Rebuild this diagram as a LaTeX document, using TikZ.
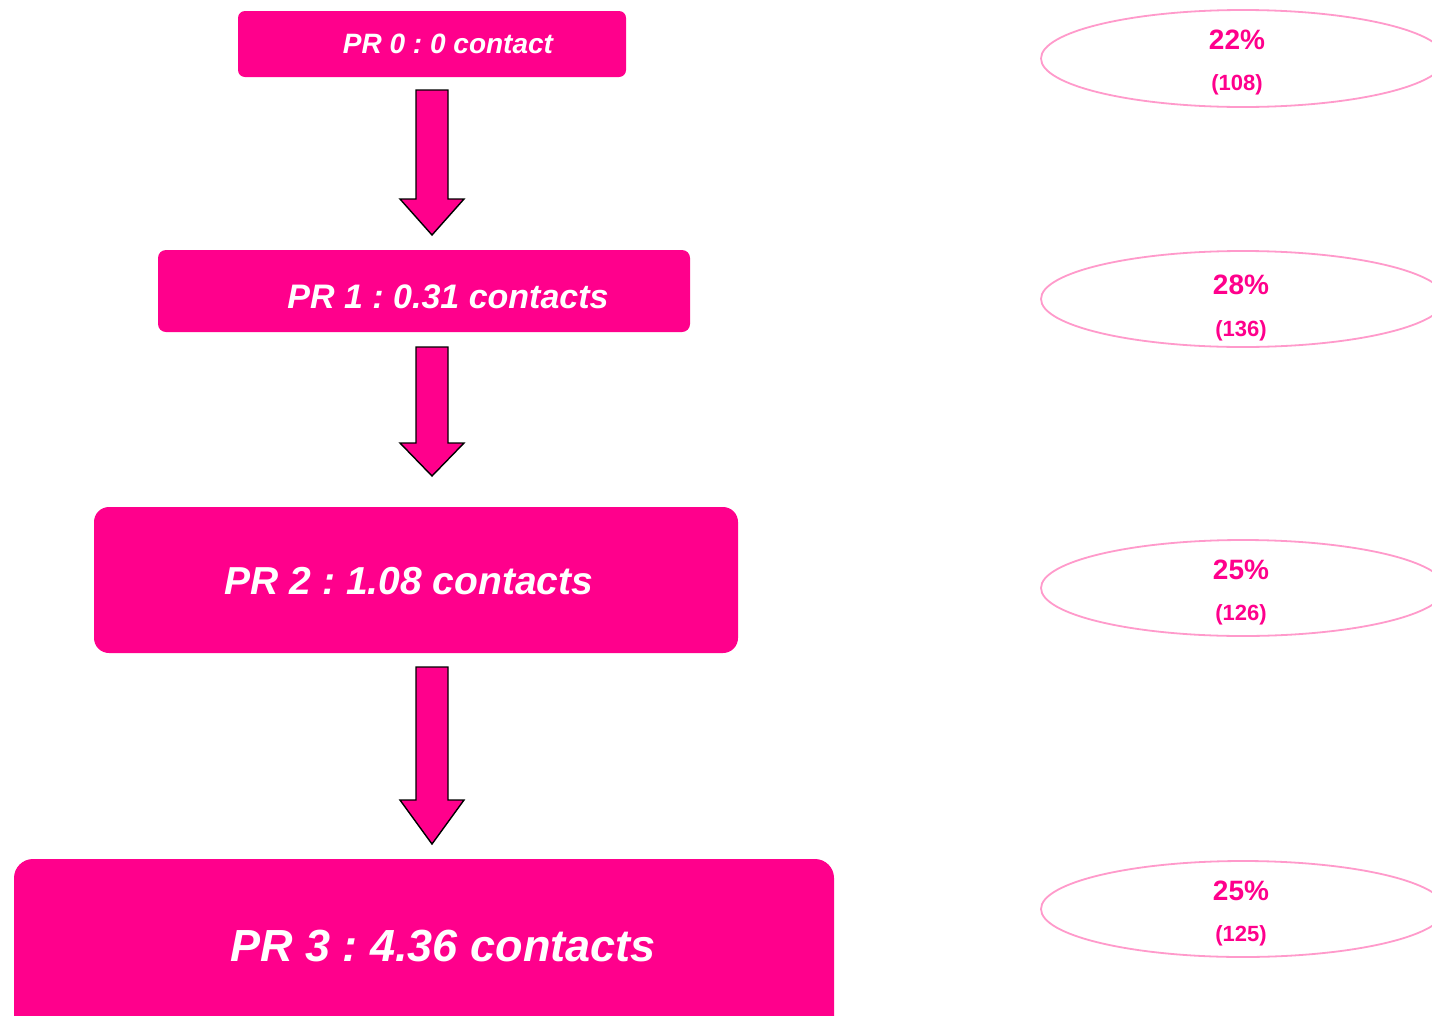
\documentclass[tikz,border=0pt]{standalone}
\usepackage{fontspec}
\setmainfont{Liberation Sans}
\usetikzlibrary{calc}
\frenchspacing
\definecolor{hotpink}{HTML}{FF008C}
\definecolor{softpink}{HTML}{FF9ACB}
\tikzset{
  prbox/.style={draw=none, fill=hotpink, inner sep=0pt, rectangle},
  prtext/.style={text=white, inner sep=0pt},
  sharering/.style={draw=softpink, line width=1.8pt},
  pcttext/.style={text=hotpink, inner sep=0pt},
  arrowbody/.style={draw=black, fill=hotpink, line width=1.4pt, line join=miter}
}
% thick down arrow: start, tip, head length
\newcommand\fatdownarrow[3]{%
  \path[arrowbody] let \p1=#1, \p2=#2 in
    (\x1-16pt,\y1) -- (\x1+16pt,\y1) -- (\x1+16pt,\y2+#3) -- (\x1+32pt,\y2+#3)
    -- (\x2,\y2) -- (\x1-32pt,\y2+#3) -- (\x1-16pt,\y2+#3) -- cycle;}
\begin{document}
\begin{tikzpicture}[x=1pt,y=-1pt]
\useasboundingbox (0,0) rectangle (1432,1015);
\clip (0,0) rectangle (1432,1015);
\fill[white] (0,0) rectangle (1432,1015);

% level boxes
\node[prbox, rounded corners=7pt, minimum width=388pt, minimum height=66pt] (b0) at (432,44) {};
\node[prbox, rounded corners=8pt, minimum width=532pt, minimum height=82pt] (b1) at (424,291) {};
\node[prbox, rounded corners=15pt, minimum width=644pt, minimum height=146pt] (b2) at (416,580) {};
\node[prbox, rounded corners=19pt, minimum width=820pt, minimum height=190pt] (b3) at (424,954) {};

\node[prtext, font=\fontsize{28}{30}\selectfont\bfseries\itshape] (t0) at (448,44) {PR 0 : 0 contact};
\node[prtext, font=\fontsize{34}{36}\selectfont\bfseries\itshape] (t1) at (448,297) {PR 1 : 0.31 contacts};
\node[prtext, font=\fontsize{39}{41}\selectfont\bfseries\itshape] (t2) at (409,581) {PR 2 : 1.08 contacts};
\node[prtext, font=\fontsize{45}{47}\selectfont\bfseries\itshape] (t3) at (443,946) {PR 3 : 4.36 contacts};

% arrows between levels
\coordinate (a0s) at (432,90);  \coordinate (a0e) at (432,235);
\coordinate (a1s) at (432,347); \coordinate (a1e) at (432,476);
\coordinate (a2s) at (432,667); \coordinate (a2e) at (432,844);
\fatdownarrow{(a0s)}{(a0e)}{36pt}
\fatdownarrow{(a1s)}{(a1e)}{33pt}
\fatdownarrow{(a2s)}{(a2e)}{44pt}

% share ellipses
\draw[sharering] (1243,58.5) ellipse [x radius=202, y radius=48.5];
\draw[sharering] (1243,299) ellipse [x radius=202, y radius=48];
\draw[sharering] (1243,588) ellipse [x radius=202, y radius=48];
\draw[sharering] (1243,909) ellipse [x radius=202, y radius=48];

\node[pcttext, font=\fontsize{28}{29}\selectfont\bfseries] (p0) at (1237,40) {22\%};
\node[pcttext, font=\fontsize{22}{23}\selectfont\bfseries] (n0) at (1237,84.5) {(108)};
\node[pcttext, font=\fontsize{28}{29}\selectfont\bfseries] (p1) at (1241,285) {28\%};
\node[pcttext, font=\fontsize{22}{23}\selectfont\bfseries] (n1) at (1241,330.5) {(136)};
\node[pcttext, font=\fontsize{28}{29}\selectfont\bfseries] (p2) at (1241,570) {25\%};
\node[pcttext, font=\fontsize{22}{23}\selectfont\bfseries] (n2) at (1241,614.5) {(126)};
\node[pcttext, font=\fontsize{28}{29}\selectfont\bfseries] (p3) at (1241,891) {25\%};
\node[pcttext, font=\fontsize{22}{23}\selectfont\bfseries] (n3) at (1241,935.5) {(125)};
\end{tikzpicture}
\end{document}
